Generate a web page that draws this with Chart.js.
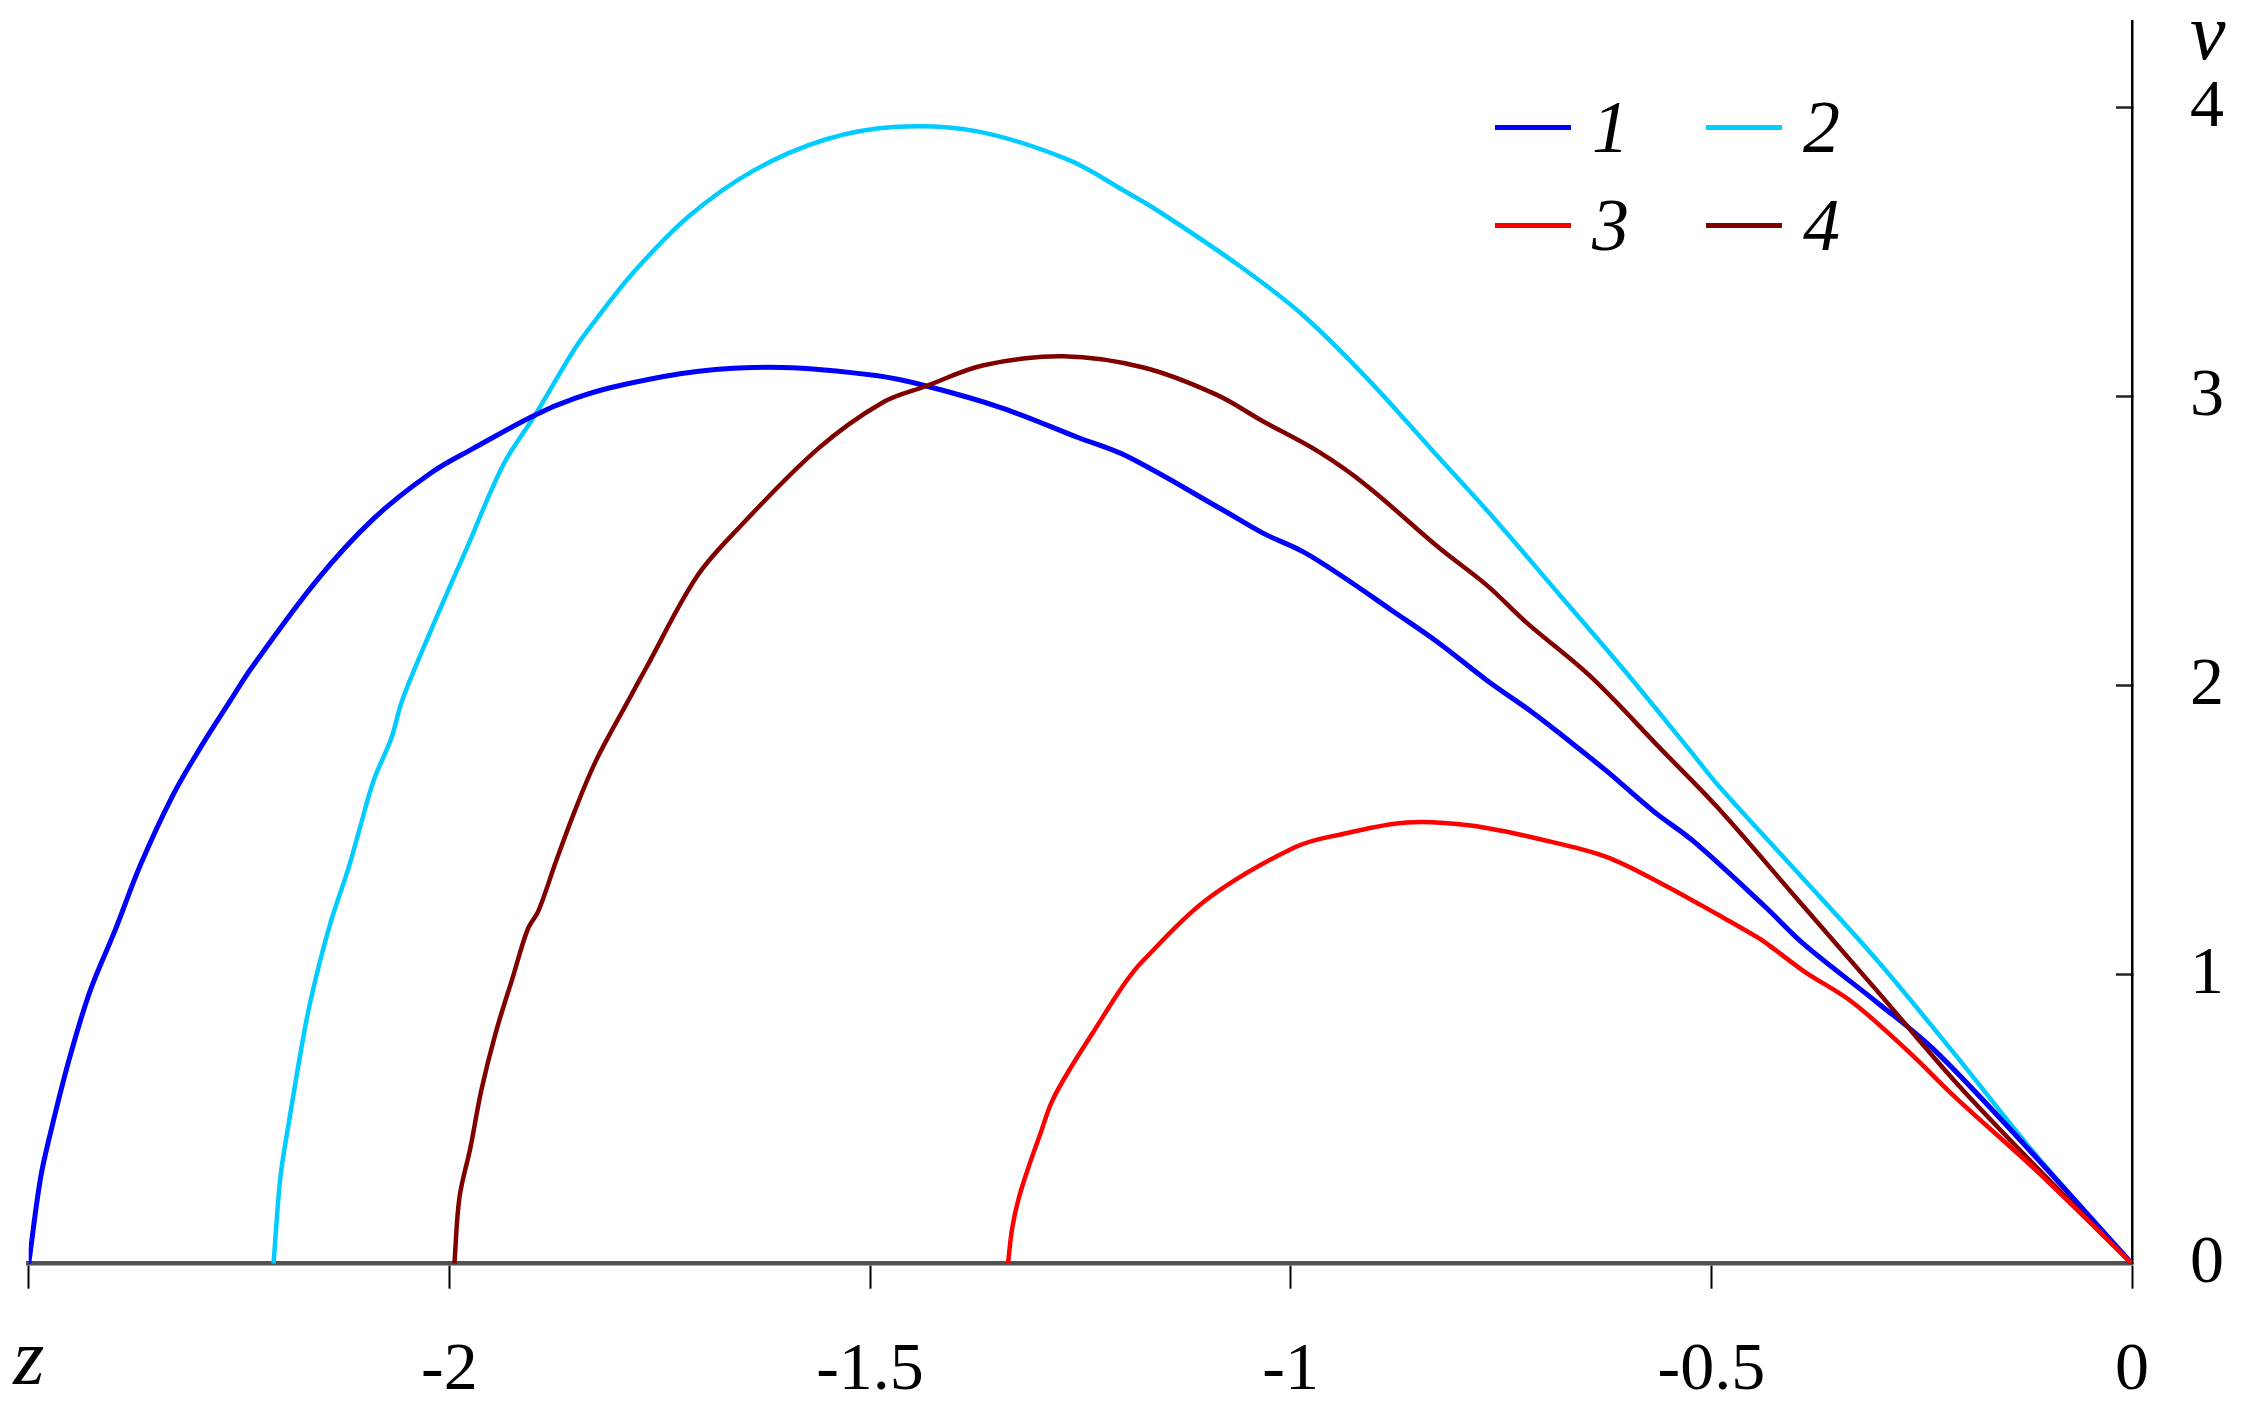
<!DOCTYPE html>
<html>
<head>
<meta charset="utf-8">
<title>v(z)</title>
<script src="https://cdn.jsdelivr.net/npm/chart.js@4.4.1/dist/chart.umd.min.js"></script>
<style>
  html, body { margin: 0; padding: 0; background: #fff; }
  #wrap { position: relative; width: 2250px; height: 1423px; }
  #legend {
    position: absolute; left: 0; top: 0;
    font-family: "Liberation Serif", "Times New Roman", serif;
    font-style: italic; font-size: 74px; color: #000;
  }
  .item { position: absolute; display: flex; align-items: center; height: 74px; line-height: 74px; }
  .swatch { width: 76px; height: 5px; margin-right: 21px; }
</style>
</head>
<body>
<div id="wrap">
  <canvas id="chart" width="2250" height="1423"></canvas>
  <div id="legend"></div>
</div>
<script>
/* ================================
   Data
================================ */
const seriesNames = ["1", "2", "3", "4"];
const seriesColors = ["#0000ff", "#00ccff", "#ff0000", "#800000"];

const z1 = [-2.5, -2.486, -2.474, -2.452, -2.427, -2.397, -2.367, -2.329, -2.295, -2.26, -2.235, -2.158, -2.09, -2.022, -1.971, -1.898, -1.851, -1.8, -1.706, -1.604, -1.493, -1.433, -1.342, -1.252, -1.194, -1.08, -1.033, -0.985, -0.938, -0.881, -0.824, -0.767, -0.711, -0.673, -0.625, -0.569, -0.521, -0.436, -0.389, -0.303, -0.237, -0.133, 0];
const v1 = [0, 0.295, 0.454, 0.706, 0.944, 1.156, 1.381, 1.619, 1.79, 1.95, 2.062, 2.363, 2.578, 2.736, 2.822, 2.937, 2.994, 3.037, 3.087, 3.101, 3.073, 3.037, 2.96, 2.858, 2.793, 2.607, 2.528, 2.463, 2.377, 2.263, 2.148, 2.019, 1.904, 1.818, 1.706, 1.566, 1.461, 1.235, 1.103, 0.904, 0.745, 0.428, 0];

const z2 = [-2.209, -2.201, -2.192, -2.171, -2.158, -2.141, -2.12, -2.107, -2.09, -2.069, -2.056, -2.022, -1.979, -1.936, -1.898, -1.851, -1.826, -1.783, -1.715, -1.638, -1.553, -1.468, -1.374, -1.266, -1.197, -1.156, -1.061, -0.985, -0.91, -0.834, -0.758, -0.682, -0.606, -0.526, -0.493, -0.398, -0.303, -0.209, -0.114, 0];
const v2 = [0, 0.295, 0.467, 0.825, 0.997, 1.182, 1.368, 1.501, 1.672, 1.818, 1.95, 2.191, 2.478, 2.764, 2.937, 3.166, 3.266, 3.424, 3.625, 3.783, 3.89, 3.934, 3.919, 3.822, 3.711, 3.64, 3.453, 3.281, 3.066, 2.822, 2.578, 2.32, 2.062, 1.778, 1.659, 1.355, 1.05, 0.719, 0.375, 0];

const z3 = [-1.336, -1.331, -1.323, -1.31, -1.297, -1.284, -1.264, -1.235, -1.197, -1.175, -1.099, -0.995, -0.938, -0.862, -0.786, -0.701, -0.625, -0.559, -0.493, -0.445, -0.426, -0.389, -0.332, -0.265, -0.209, -0.114, 0];
const v3 = [0, 0.123, 0.229, 0.348, 0.454, 0.56, 0.666, 0.8, 0.971, 1.05, 1.262, 1.441, 1.487, 1.527, 1.516, 1.467, 1.408, 1.315, 1.209, 1.129, 1.09, 1.01, 0.904, 0.732, 0.573, 0.323, 0];

const z4 = [-1.994, -1.988, -1.975, -1.962, -1.945, -1.924, -1.907, -1.894, -1.873, -1.851, -1.826, -1.787, -1.766, -1.706, -1.655, -1.561, -1.485, -1.433, -1.365, -1.27, -1.175, -1.089, -1.033, -0.966, -0.91, -0.824, -0.767, -0.72, -0.644, -0.559, -0.493, -0.398, -0.303, -0.209, -0.114, 0];
const v4 = [0, 0.229, 0.401, 0.6, 0.798, 0.997, 1.156, 1.222, 1.394, 1.566, 1.739, 1.95, 2.062, 2.377, 2.549, 2.822, 2.98, 3.037, 3.109, 3.14, 3.101, 3.008, 2.915, 2.808, 2.693, 2.478, 2.348, 2.219, 2.033, 1.778, 1.58, 1.262, 0.944, 0.626, 0.335, 0];

// ticks; the axis names sit in the tick rows like the original
const xTickValues = [-2.5, -2, -1.5, -1, -0.5, 0];
const xTickLabels = ["z", "-2", "-1.5", "-1", "-0.5", "0"];
const yTickValues = [0, 1, 2, 3, 4, 4.243];
const yTickLabels = ["0", "1", "2", "3", "4", "v"];

/* ================================
   Helpers
================================ */
const SERIF = '"Liberation Serif", "Times New Roman", serif';

function toPoints(zs, vs) {
  return zs.map((z, i) => ({ x: z, y: vs[i] }));
}

function isAxisName(tick, values) {
  if (!tick) return false;
  // first x tick is "z", last y tick is "v"
  return values === xTickValues
    ? tick.value === values[0]
    : tick.value === values[values.length - 1];
}

function tickFont(values) {
  return ctx => isAxisName(ctx.tick, values)
    ? { family: SERIF, size: 80, style: "italic", lineHeight: 0.8 }
    : { family: SERIF, size: 68, lineHeight: 1.2 };
}

/* ================================
   Legend (2 x 2 grid)
================================ */
function buildLegend() {
  const box = document.getElementById("legend");
  const cols = [1495, 1706];
  const rows = [90, 188];
  seriesNames.forEach((name, i) => {
    const item = document.createElement("div");
    item.className = "item";
    item.style.left = cols[i % 2] + "px";
    item.style.top = rows[Math.floor(i / 2)] + "px";
    const sw = document.createElement("span");
    sw.className = "swatch";
    sw.style.background = seriesColors[i];
    const label = document.createElement("span");
    label.textContent = name;
    item.appendChild(sw);
    item.appendChild(label);
    box.appendChild(item);
  });
}

/* ================================
   Chart
================================ */
function drawChart() {
  const series = [[z1, v1], [z2, v2], [z3, v3], [z4, v4]];
  const widths = [5, 4.5, 4.5, 4.5];
  const order = [2, 3, 0, 1];

  new Chart(document.getElementById("chart"), {
    type: "line",
    data: {
      datasets: series.map(([zs, vs], i) => ({
        label: seriesNames[i],
        data: toPoints(zs, vs),
        borderColor: seriesColors[i],
        backgroundColor: seriesColors[i],
        borderWidth: widths[i],
        pointRadius: 0,
        tension: 0.35,
        fill: false,
        order: order[i]
      }))
    },
    options: {
      responsive: false,
      devicePixelRatio: 1,
      animation: false,
      layout: {
        autoPadding: false,
        padding: { left: 28.7, top: 21, right: 0, bottom: 0 }
      },
      plugins: {
        legend: { display: false },
        tooltip: { enabled: false }
      },
      scales: {
        x: {
          type: "linear",
          position: "bottom",
          min: -2.5,
          max: 0,
          afterBuildTicks: s => { s.ticks = xTickValues.map(v => ({ value: v })); },
          afterFit: s => { s.height = 159.3; s.paddingLeft = 0; s.paddingRight = 0; },
          border: { display: true, color: "#505050", width: 4.5 },
          grid: {
            display: true,
            drawOnChartArea: false,
            drawTicks: true,
            tickLength: 25,
            tickColor: "#000",
            tickWidth: 2
          },
          ticks: {
            color: "#000",
            padding: 42,
            maxRotation: 0,
            autoSkip: false,
            font: tickFont(xTickValues),
            callback: value => xTickLabels[xTickValues.indexOf(value)] ?? String(value)
          }
        },
        y: {
          type: "linear",
          position: "right",
          min: 0,
          max: 4.3,
          afterBuildTicks: s => { s.ticks = yTickValues.map(v => ({ value: v })); },
          afterFit: s => { s.width = 118; s.paddingTop = 0; s.paddingBottom = 0; },
          border: { display: true, color: "#000", width: 2.5 },
          grid: {
            display: true,
            drawOnChartArea: false,
            drawTicks: true,
            tickLength: -16,   // ticks point into the plot
            tickColor: ctx => isAxisName(ctx.tick, yTickValues) ? "rgba(0,0,0,0)" : "#222",
            tickWidth: 2.5
          },
          ticks: {
            color: "#000",
            padding: 74,
            autoSkip: false,
            font: tickFont(yTickValues),
            callback: value => yTickLabels[yTickValues.indexOf(value)] ?? String(value)
          }
        }
      }
    }
  });
}

buildLegend();
drawChart();
</script>
</body>
</html>
